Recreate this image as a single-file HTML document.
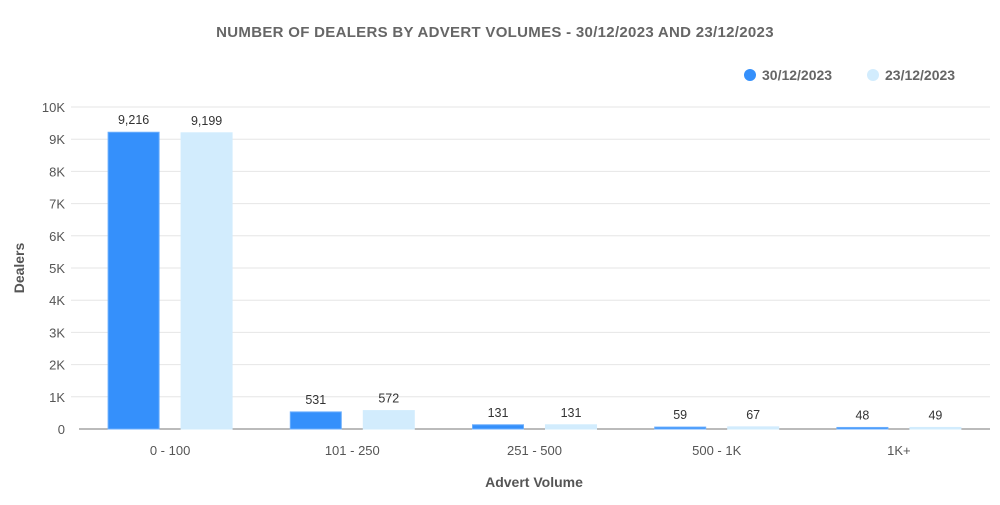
<!DOCTYPE html>
<html><head><meta charset="utf-8"><style>
body{margin:0;background:#fff;font-family:"Liberation Sans",sans-serif}
svg text{font-family:"Liberation Sans",sans-serif}
</style></head><body>
<svg id="chart" width="1000" height="500" xmlns="http://www.w3.org/2000/svg">
<text x="495" y="37" text-anchor="middle" font-size="15" font-weight="bold" fill="#666" letter-spacing="0.3">NUMBER OF DEALERS BY ADVERT VOLUMES - 30/12/2023 AND 23/12/2023</text>
<g>
<g><circle cx="750" cy="75" r="6" fill="#3590fb"/><text x="762" y="80" font-size="14" font-weight="bold" fill="#666">30/12/2023</text></g>
<g><circle cx="873" cy="75" r="6" fill="#d2ecfd"/><text x="885" y="80" font-size="14" font-weight="bold" fill="#666">23/12/2023</text></g>
</g>
<text transform="translate(24,268) rotate(-90)" text-anchor="middle" font-size="14" font-weight="bold" fill="#555">Dealers</text>
<text x="534" y="487" text-anchor="middle" font-size="14" font-weight="bold" fill="#555">Advert Volume</text>
<g id="grid"></g><g id="bars"></g>
</svg>
<script>
const categories=["0 - 100","101 - 250","251 - 500","500 - 1K","1K+"];
const series1=[9216,531,131,59,48];
const series2=[9199,572,131,67,49];
const yTicks=[0,1000,2000,3000,4000,5000,6000,7000,8000,9000,10000];
const yTickLabels=["0","1K","2K","3K","4K","5K","6K","7K","8K","9K","10K"];
const NS="http://www.w3.org/2000/svg";
const x0=79,x1=990,y0=429,y1=107,yMax=10000;
const band=(x1-x0)/categories.length;
const y=v=>y0-(v/yMax)*(y0-y1);
const xc=i=>x0+band*(i+0.5);
function mk(t,a,p){const e=document.createElementNS(NS,t);for(const k in a)e.setAttribute(k,a[k]);p.appendChild(e);return e;}
const grid=document.getElementById('grid'),bars=document.getElementById('bars');
yTicks.forEach((v,i)=>{
 if(v>0){const l=mk('line',{x1:71,x2:x1,y1:y(v),y2:y(v),stroke:'#e6e6e6'},grid);
 }
 const t=mk('text',{x:65,y:y(v)+5,'text-anchor':'end','font-size':13,fill:'#555'},grid);
 t.textContent=yTickLabels[i];
 
});
const ax=mk('line',{x1:x0,x2:x1,y1:y0,y2:y0,stroke:'#777'},grid);

const bw=51,off=36.5;
categories.forEach((c,i)=>{
 const t=mk('text',{x:xc(i),y:455,'text-anchor':'middle','font-size':13,fill:'#555'},grid);
 t.textContent=c;
 
 [[series1,'#3590fb','#6aaefc',-off,'bar-30-12'],[series2,'#d2ecfd','#d2ecfd',off,'bar-23-12']].forEach(s=>{
  const v=s[0][i],cx=xc(i)+s[3];
  const r=mk('rect',{x:cx-bw/2,y:y(v),width:bw,height:y0-y(v),fill:s[1],stroke:s[2],'stroke-width':1},bars);
  
  const lb=mk('text',{x:cx,y:y(v)-8,'text-anchor':'middle','font-size':12.5,fill:'#333'},bars);
  lb.textContent=v.toLocaleString('en-US');
  
 });
});
</script>
</body></html>
